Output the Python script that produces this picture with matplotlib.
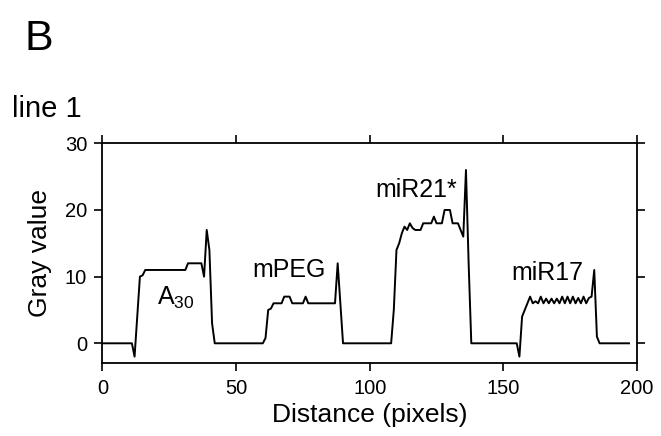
import matplotlib
matplotlib.use('Agg')
import matplotlib.pyplot as plt

plt.rcParams['font.family'] = ['Liberation Sans', 'DejaVu Sans']
plt.rcParams['mathtext.fontset'] = 'custom'
plt.rcParams['mathtext.rm'] = 'Liberation Sans'
plt.rcParams['mathtext.it'] = 'Liberation Sans'

# line profile breakpoints (distance in pixels, gray value)
dist = [0, 11, 12, 14, 15, 16, 31, 32, 37, 38, 39, 40, 41, 42,
        60, 61, 62, 63, 64, 67, 68, 70, 71, 75, 76, 77, 87, 88, 89, 90,
        108, 109, 110, 111, 112, 113, 114, 115, 116, 117, 119, 120, 123, 124,
        125, 127, 128, 130, 131, 133, 134, 135, 136, 137, 138,
        155, 156, 157, 158, 159, 160, 161, 162, 163, 164, 165, 166, 167,
        168, 169, 170, 171, 172, 173, 174, 175, 176, 177, 178, 179, 180,
        181, 182, 183, 184, 185, 186, 197]
gray = [0, 0, -2, 10, 10.2, 11, 11, 12, 12, 10, 17, 14, 3, 0,
        0, 0.8, 5, 5.2, 6, 6, 7, 7, 6, 6, 7, 6, 6, 12, 6, 0,
        0, 5, 14, 15, 16.5, 17.5, 17, 18, 17.3, 17, 17, 18, 18, 19,
        18, 18, 20, 20, 18, 18, 17, 16, 26, 12, 0,
        0, -2, 4, 5, 6, 7, 6, 6.3, 6, 7, 6, 6.7, 6,
        6.7, 6, 6.7, 6, 7, 6, 7, 6, 7, 6, 6.8, 6, 7,
        6, 6.8, 7, 11, 1, 0, 0]

labels = ['mPEG', 'miR21*', 'miR17']
label_x = [56, 102, 153]
label_y = [10, 22, 9.5]

fig = plt.figure(figsize=(6.61, 4.36), dpi=100)
ax = fig.add_axes([102.5 / 661, 1 - 363.3 / 436, 534.5 / 661, 220 / 436])

ax.plot(dist, gray, '-', color='black', lw=1.4)

ax.set_xlim(0, 200)
ax.set_ylim(-3, 30)
ax.set_xticks([0, 50, 100, 150, 200])
ax.set_yticks([0, 10, 20, 30])
ax.tick_params(direction='out', length=6, width=1.2, labelsize=14.5, pad=5,
               top=True, right=True)
for s in ax.spines.values():
    s.set_linewidth(1.3)

ax.set_xlabel('Distance (pixels)', fontsize=19, labelpad=4)
ax.set_ylabel('Gray value', fontsize=19, labelpad=9)

ax.text(20.5, 5.8, r'A$_{\mathrm{30}}$', fontsize=18)
for t, x, y in zip(labels, label_x, label_y):
    ax.text(x, y, t, fontsize=18)

fig.text(24 / 661, 1 - 50 / 436, 'B', fontsize=31, va='baseline')
fig.text(12 / 661, 1 - 117 / 436, 'line 1', fontsize=21, va='baseline')

fig.savefig('out.png', dpi=100)
